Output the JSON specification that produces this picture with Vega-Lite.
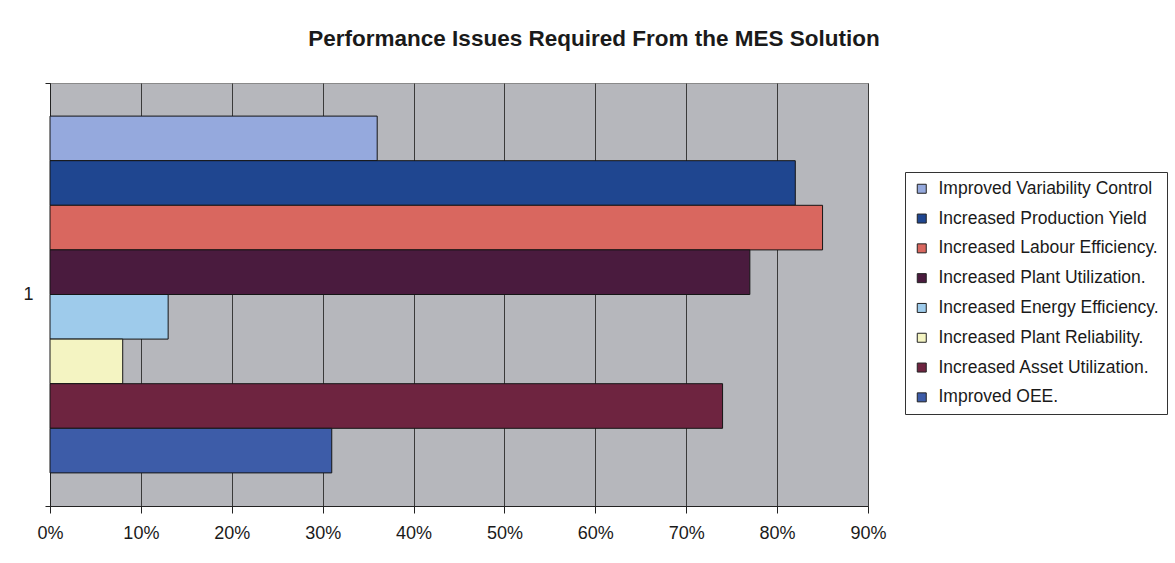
{
  "$schema": "https://vega.github.io/schema/vega-lite/v6.json",
  "width": 818,
  "height": 423,
  "autosize": {"type": "none"},
  "padding": {"left": 50, "top": 83, "right": 307, "bottom": 57},
  "background": "white",
  "title": {
    "text": "Performance Issues Required From the MES Solution",
    "font": "Liberation Sans",
    "fontSize": 22.5,
    "fontWeight": "bold",
    "color": "#1a1a1a",
    "anchor": "middle",
    "dx": 135,
    "offset": 6,
    "baseline": "alphabetic"
  },
  "data": {
    "values": [
      {"cat": "1", "issue": "Improved Variability Control", "share": 0.36},
      {"cat": "1", "issue": "Increased Production Yield", "share": 0.82},
      {"cat": "1", "issue": "Increased Labour Efficiency.", "share": 0.85},
      {"cat": "1", "issue": "Increased Plant Utilization.", "share": 0.77},
      {"cat": "1", "issue": "Increased Energy Efficiency.", "share": 0.13},
      {"cat": "1", "issue": "Increased Plant Reliability.", "share": 0.08},
      {"cat": "1", "issue": "Increased Asset Utilization.", "share": 0.74},
      {"cat": "1", "issue": "Improved OEE.", "share": 0.31}
    ]
  },
  "mark": {"type": "bar", "stroke": "#151515", "strokeWidth": 1},
  "encoding": {
    "y": {
      "field": "cat",
      "type": "nominal",
      "title": null,
      "scale": {"paddingInner": 0, "paddingOuter": 0},
      "axis": {
        "tickBand": "extent",
        "grid": false,
        "labelAngle": 0,
        "labelFont": "Liberation Sans",
        "labelFontSize": 18,
        "labelColor": "#1a1a1a",
        "labelPadding": 12,
        "tickSize": 5,
        "tickColor": "#222",
        "domainColor": "#222"
      }
    },
    "yOffset": {
      "field": "issue",
      "type": "nominal",
      "sort": [
        "Improved Variability Control",
        "Increased Production Yield",
        "Increased Labour Efficiency.",
        "Increased Plant Utilization.",
        "Increased Energy Efficiency.",
        "Increased Plant Reliability.",
        "Increased Asset Utilization.",
        "Improved OEE."
      ],
      "scale": {"paddingInner": 0, "paddingOuter": 0.742}
    },
    "x": {
      "field": "share",
      "type": "quantitative",
      "title": null,
      "scale": {"domain": [0, 0.9], "nice": false},
      "axis": {
        "values": [0, 0.1, 0.2, 0.3, 0.4, 0.5, 0.6, 0.7, 0.8, 0.9],
        "format": ".0%",
        "labelFont": "Liberation Sans",
        "labelFontSize": 18,
        "labelColor": "#1a1a1a",
        "labelPadding": 11,
        "labelFlush": false,
        "tickSize": 7,
        "tickColor": "#222",
        "domainColor": "#222",
        "grid": true,
        "gridColor": "#3a3a3a",
        "gridWidth": 1
      }
    },
    "color": {
      "field": "issue",
      "type": "nominal",
      "scale": {
        "domain": [
          "Improved Variability Control",
          "Increased Production Yield",
          "Increased Labour Efficiency.",
          "Increased Plant Utilization.",
          "Increased Energy Efficiency.",
          "Increased Plant Reliability.",
          "Increased Asset Utilization.",
          "Improved OEE."
        ],
        "range": ["#95a9dd", "#1f4690", "#d9675f", "#4a1b3e", "#9ecbeb", "#f4f4c2", "#6e2440", "#3d5ca8"]
      },
      "legend": {
        "title": null,
        "orient": "none",
        "legendX": 855,
        "legendY": 89,
        "strokeColor": "#333",
        "fillColor": "white",
        "padding": 8,
        "symbolType": "square",
        "symbolSize": 81,
        "symbolStrokeColor": "#222",
        "symbolStrokeWidth": 1,
        "labelFont": "Liberation Sans",
        "labelFontSize": 17.5,
        "labelColor": "#1a1a1a",
        "labelOffset": 8,
        "labelLimit": 400,
        "rowPadding": 10.8
      }
    }
  },
  "config": {
    "view": {"fill": "#b6b7bc", "stroke": "#8a8a8a"}
  }
}
